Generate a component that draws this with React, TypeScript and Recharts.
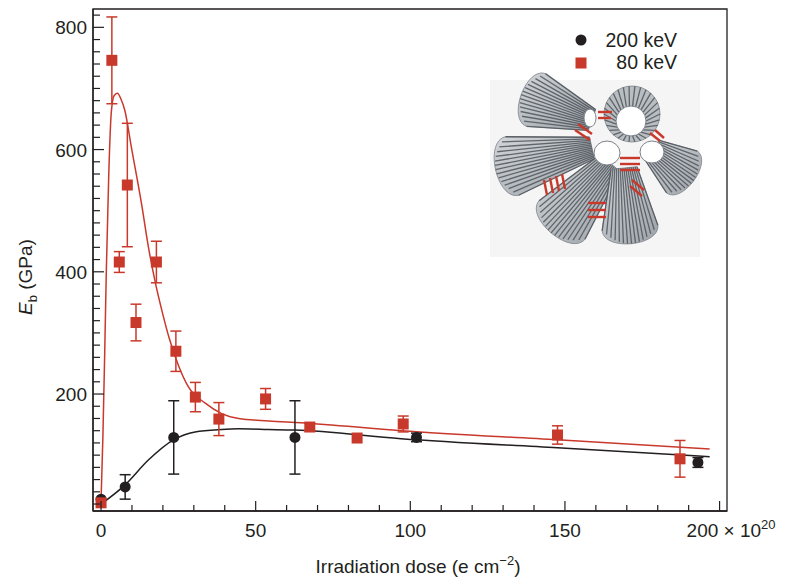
import { ComposedChart, Line, Scatter, ErrorBar, XAxis, YAxis, ReferenceArea } from "recharts";

// colours / font
const RED = "#c9392b";
const INK = "#231f20";
const FONT = "'Liberation Sans', Arial, Helvetica, sans-serif";

// axis ranges
const X_MIN = -2.6;
const X_MAX = 202.4;
const Y_MIN = 8.6;
const Y_MAX = 830;

const xTicks = [0, 10, 20, 30, 40, 50, 60, 70, 80, 90, 100, 110, 120, 130, 140, 150, 160, 170, 180, 190, 200];
const yTicks = [20, 40, 60, 80, 100, 120, 140, 160, 180, 200, 220, 240, 260, 280, 300, 320, 340, 360, 380, 400,
  420, 440, 460, 480, 500, 520, 540, 560, 580, 600, 620, 640, 660, 680, 700, 720, 740, 760, 780, 800, 820];

// 80 keV measurements
const redDose = [0, 3.5, 5.9, 8.5, 11.3, 17.9, 24.2, 30.5, 38.1, 53.2, 67.5, 82.8, 97.7, 147.6, 187.2];
const redEb = [22, 746, 416, 542, 317, 416, 270, 195, 159, 192, 146, 128, 151, 133, 94];
const redErr = [0, 71, 17, 101, 30, 34, 33, 24, 27, 17, 6, 0, 13, 15, 30];

// 200 keV measurements
const blackDose = [0, 7.8, 23.5, 62.7, 102, 193];
const blackEb = [28, 48, 129, 129, 129, 88];
const blackErr = [0, 20, 60, 60, 7, 8];

// fitted curves
const redFitDose = [0, 0.6, 1.2, 1.7, 2.5, 3.3, 4.2, 5.3, 6.5, 7.7, 9.8, 13.1, 15.3, 17.4, 20, 22, 25, 28.2, 33.7, 39, 44.5, 54.2, 64.6, 97, 147.6, 196.8];
const redFitEb = [25, 130, 270, 400, 560, 660, 688, 692, 682, 664, 604, 511, 441, 386, 330, 292, 247, 212, 185, 168, 160, 156, 153, 140, 125, 110];
const blackFitDose = [0, 7.7, 15.3, 23.4, 30.4, 39, 44.5, 54.2, 62.7, 97, 147.6, 196.8];
const blackFitEb = [20, 51, 92, 125, 138, 142, 143, 142, 141, 127, 112, 97.5];

const redPts = redDose.map((x, i) => ({ x, y: redEb[i], err: redErr[i] }));
const blackPts = blackDose.map((x, i) => ({ x, y: blackEb[i], err: blackErr[i] }));
const redFit = redFitDose.map((x, i) => ({ x, y: redFitEb[i] }));
const blackFit = blackFitDose.map((x, i) => ({ x, y: blackFitEb[i] }));

function XTick(props: any) {
  const { x, y, payload } = props;
  const v = payload.value;
  const major = v % 50 === 0;
  return (
    <g>
      <line x1={x} x2={x} y1={y} y2={y - (major ? 10 : 6)} stroke={INK} strokeWidth={1.2} />
      {major && v === 200 && (
        <text x={x - 33} y={y + 26} fill={INK} fontSize={19} fontFamily={FONT}>
          200 × 10<tspan dy={-8} fontSize={13}>20</tspan>
        </text>
      )}
      {major && v !== 200 && (
        <text x={x} y={y + 26} fill={INK} fontSize={19} fontFamily={FONT} textAnchor="middle">
          {v}
        </text>
      )}
    </g>
  );
}

function YTick(props: any) {
  const { x, y, payload } = props;
  const v = payload.value;
  const major = v % 200 === 0;
  return (
    <g>
      <line x1={x} x2={x + (major ? 11 : 7)} y1={y} y2={y} stroke={INK} strokeWidth={1.2} />
      {major && (
        <text x={x - 6} y={y + 7} fill={INK} fontSize={19} fontFamily={FONT} textAnchor="end">
          {v}
        </text>
      )}
    </g>
  );
}

const square = (p: any) => <rect x={p.cx - 5.5} y={p.cy - 5.5} width={11} height={11} fill={RED} />;
const dot = (p: any) => <circle cx={p.cx} cy={p.cy} r={5.5} fill={INK} />;

// rough drawing of the nanotube inset
const cones = [
  { nx: 592, ny: 120, wx: 536, wy: 100, rn: 11, rw: 28 },
  { nx: 592, ny: 148, wx: 512, wy: 166, rn: 11, rw: 30 },
  { nx: 610, ny: 163, wx: 562, wy: 220, rn: 13, rw: 30 },
  { nx: 624, ny: 168, wx: 630, wy: 228, rn: 13, rw: 28 },
  { nx: 652, ny: 150, wx: 682, wy: 172, rn: 12, rw: 26 },
];

function coneShape(c: any, key: number) {
  const dx = c.wx - c.nx;
  const dy = c.wy - c.ny;
  const L = Math.hypot(dx, dy);
  const ux = dx / L;
  const uy = dy / L;
  const px = -uy;
  const py = ux;
  const k = c.rw * 0.75;
  const b = [c.wx + px * c.rw, c.wy + py * c.rw];
  const d = [c.wx - px * c.rw, c.wy - py * c.rw];
  const path = `M${c.nx + px * c.rn},${c.ny + py * c.rn} L${b[0]},${b[1]} C${b[0] + ux * k},${b[1] + uy * k} ${d[0] + ux * k},${d[1] + uy * k} ${d[0]},${d[1]} L${c.nx - px * c.rn},${c.ny - py * c.rn} Z`;
  const stripes = [];
  for (let i = 0; i <= 14; i++) {
    const t = -1 + (2 * i) / 14;
    const bulge = k * 0.75 * (1 - t * t);
    stripes.push(
      <line
        key={i}
        x1={c.nx + px * c.rn * t}
        y1={c.ny + py * c.rn * t}
        x2={c.wx + px * c.rw * t + ux * bulge}
        y2={c.wy + py * c.rw * t + uy * bulge}
        stroke="#4f555b"
        strokeWidth={1.3}
        strokeOpacity={0.85}
      />
    );
  }
  return (
    <g key={key}>
      <path d={path} fill="url(#coneFill)" stroke="#7d838a" strokeWidth={0.8} />
      {stripes}
    </g>
  );
}

function Ring({ cx, cy, ro, hx, hy, ri }: any) {
  const lines = [];
  for (let i = 0; i < 30; i++) {
    const a = (i / 30) * Math.PI * 2;
    lines.push(
      <line key={i} x1={hx + Math.cos(a) * ri} y1={hy + Math.sin(a) * ri} x2={cx + Math.cos(a) * ro} y2={cy + Math.sin(a) * ro}
        stroke="#4f555b" strokeWidth={1.3} strokeOpacity={0.85} />
    );
  }
  return (
    <g>
      <circle cx={cx} cy={cy} r={ro} fill="#b9bec3" stroke="#7d838a" strokeWidth={0.8} />
      {lines}
      <circle cx={hx} cy={hy} r={ri} fill="#ffffff" stroke="#7d838a" strokeWidth={1} />
    </g>
  );
}

const redBars = [
  [598, 112, 612, 112], [598, 118, 611, 118],
  [620, 158, 640, 158], [620, 164, 640, 164], [620, 170, 640, 170],
  [544, 180, 547, 195], [550, 178, 553, 193], [556, 176, 559, 191], [562, 174, 565, 189],
  [588, 203, 606, 203], [588, 210, 606, 210], [588, 217, 606, 217],
  [650, 133, 660, 141], [655, 130, 664, 138],
  [630, 186, 642, 196], [632, 180, 644, 190],
  [575, 130, 590, 140], [578, 124, 592, 134],
];

function Inset() {
  return (
    <g>
      <defs>
        <linearGradient id="coneFill" x1="0" y1="0" x2="1" y2="1">
          <stop offset="0" stopColor="#d2d6da" />
          <stop offset="1" stopColor="#9ca2a8" />
        </linearGradient>
      </defs>
      <rect x={490} y={80} width={210} height={177} fill="#f5f5f5" />
      {cones.map((c, i) => coneShape(c, i))}
      <Ring cx={632} cy={114} ro={28} hx={631} hy={121} ri={15} />
      <ellipse cx={607} cy={153} rx={13} ry={12} fill="#ffffff" stroke="#7d838a" />
      <ellipse cx={652} cy={152} rx={12} ry={11} fill="#ffffff" stroke="#7d838a" />
      <ellipse cx={590} cy={118} rx={6} ry={9} fill="#ffffff" stroke="#7d838a" />
      {redBars.map((b, i) => (
        <line key={i} x1={b[0]} y1={b[1]} x2={b[2]} y2={b[3]} stroke={RED} strokeWidth={2.4} />
      ))}
    </g>
  );
}

export default function App() {
  return (
    <div style={{ position: "absolute", left: 0, top: 0, width: 806, height: 581, background: "#ffffff" }}>
      <ComposedChart width={806} height={581} margin={{ top: 9, right: 79, bottom: 40, left: 0 }}>
        <XAxis
          type="number"
          dataKey="x"
          domain={[X_MIN, X_MAX]}
          allowDataOverflow
          ticks={xTicks}
          interval={0}
          tickSize={0}
          tickMargin={0}
          height={30}
          tick={<XTick />}
          axisLine={{ stroke: INK, strokeWidth: 1.3 }}
          tickLine={false}
        />
        <YAxis
          type="number"
          dataKey="y"
          domain={[Y_MIN, Y_MAX]}
          allowDataOverflow
          ticks={yTicks}
          interval={0}
          tickSize={0}
          tickMargin={0}
          width={93}
          tick={<YTick />}
          axisLine={{ stroke: INK, strokeWidth: 1.3 }}
          tickLine={false}
        />
        <ReferenceArea x1={X_MIN} x2={X_MAX} y1={Y_MIN} y2={Y_MAX} fill="none" stroke={INK} strokeWidth={1.3} />
        <Line data={blackFit} dataKey="y" type="monotone" stroke={INK} strokeWidth={1.5} dot={false} isAnimationActive={false} />
        <Line data={redFit} dataKey="y" type="monotone" stroke={RED} strokeWidth={1.5} dot={false} isAnimationActive={false} />
        <Scatter data={blackPts} dataKey="y" fill={INK} shape={dot} isAnimationActive={false}>
          <ErrorBar dataKey="err" direction="y" width={5.5} stroke={INK} strokeWidth={1.5} />
        </Scatter>
        <Scatter data={redPts} dataKey="y" fill={RED} shape={square} isAnimationActive={false}>
          <ErrorBar dataKey="err" direction="y" width={5.5} stroke={RED} strokeWidth={1.5} />
        </Scatter>
      </ComposedChart>
      <svg width={806} height={581} style={{ position: "absolute", left: 0, top: 0, pointerEvents: "none" }}>
        <Inset />
        <circle cx={581} cy={40} r={5.5} fill={INK} />
        <rect x={575.5} y={57.5} width={11} height={11} fill={RED} />
        <text x={677} y={47} fill={INK} fontSize={19.5} fontFamily={FONT} textAnchor="end">200 keV</text>
        <text x={677} y={69} fill={INK} fontSize={19.5} fontFamily={FONT} textAnchor="end">80 keV</text>
        <text x={418} y={573} fill={INK} fontSize={19} fontFamily={FONT} textAnchor="middle">
          Irradiation dose (e cm<tspan dy={-8} fontSize={13}>−2</tspan><tspan dy={8}>)</tspan>
        </text>
        <text x={32} y={277} transform="rotate(-90, 32, 277)" fill={INK} fontSize={19} fontFamily={FONT} textAnchor="middle">
          <tspan fontStyle="italic">E</tspan>
          <tspan dy={5} fontSize={13}>b</tspan>
          <tspan dy={-5}> (GPa)</tspan>
        </text>
      </svg>
    </div>
  );
}
